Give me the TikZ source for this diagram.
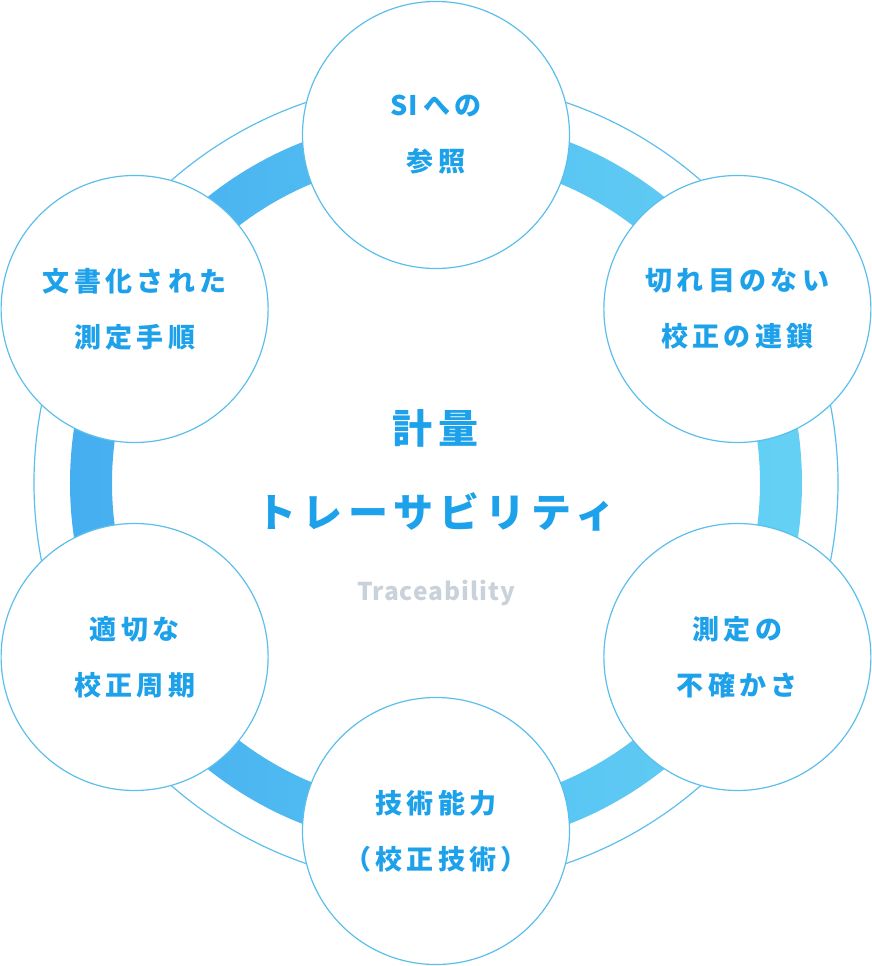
\documentclass[tikz,border=0pt]{standalone}
\usepackage{fontspec}
\setmainfont{Noto Sans CJK JP}
\definecolor{txtblue}{HTML}{1DA1EA}
\definecolor{lineblue}{HTML}{5CBFEB}
\definecolor{bandleft}{HTML}{45AEF0}
\definecolor{bandright}{HTML}{64D1F4}
\definecolor{engray}{HTML}{C9D2DA}
\tikzset{
  item/.style={circle,draw=lineblue,line width=1.2pt,fill=white,minimum size=267pt,inner sep=0pt,align=center,text=txtblue,
    font=\fontsize{27}{56}\selectfont\bfseries\addfontfeature{LetterSpace=16}},
  title/.style={align=center,text=txtblue,font=\fontsize{40}{84}\selectfont\bfseries\addfontfeature{LetterSpace=15}},
  entext/.style={text=engray,font=\fontsize{24.5}{28}\selectfont\bfseries\addfontfeature{LetterSpace=4}}
}
\begin{document}
\begin{tikzpicture}[x=1pt,y=1pt]
\useasboundingbox (-436pt,-483pt) rectangle (436pt,483pt);

% ring
\draw[lineblue,line width=1.2pt] (0,0) circle (402pt);
\shade[left color=bandleft,right color=bandright,even odd rule] (0,0) circle (366pt) (0,0) circle (324pt);

% six items
\node[item] (si) at (90:348pt) {{\addfontfeature{LetterSpace=3}SI}\hspace{5pt}への\\参照};
\node[item] (chain) at (30:348pt) {切れ目のない\\校正の連鎖};
\node[item] (uncert) at (-30:348pt) {測定の\\不確かさ};
\node[item] (skill) at (-90:348pt) {技術能力\\（校正技術）};
\node[item] (period) at (210:348pt) {適切な\\校正周期};
\node[item] (proc) at (150:348pt) {文書化された\\測定手順};

% centre
\node[title] (keiryo) at (0,13pt) {計量\\トレーサビリティ};
\node[entext] (trace) at (0,-110pt) {Traceability};
\end{tikzpicture}
\end{document}
